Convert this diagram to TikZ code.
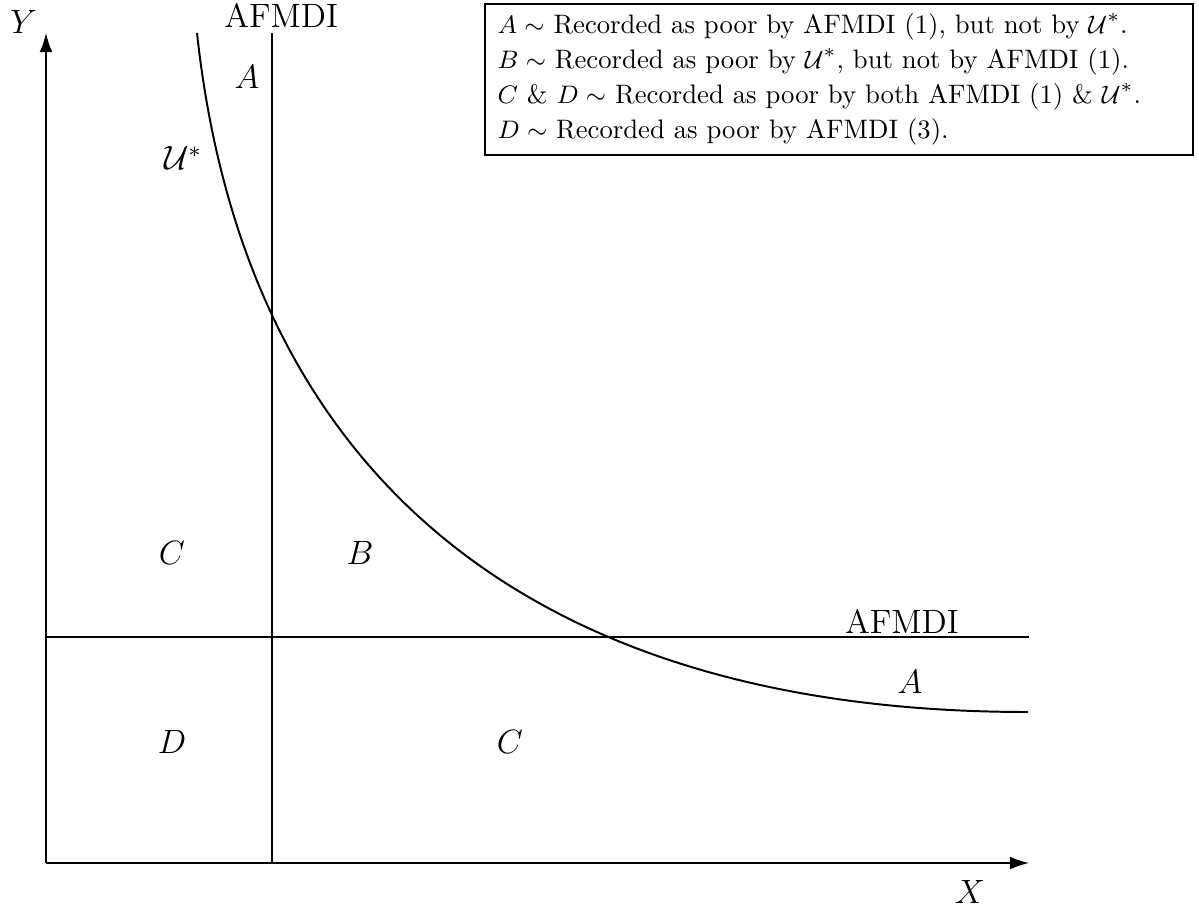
\documentclass[tikz,border=0pt]{standalone}
\usepackage{amsmath, amssymb}
\usepackage{tikz}
\usetikzlibrary{arrows.meta, positioning, calc}

\begin{document}
\begin{tikzpicture}[
  axis/.style={-{Latex[length=2.4mm, width=1.6mm]}, line width=0.5pt},
  cutoff/.style={line width=0.5pt},
  region/.style={font=\large, inner sep=0pt},
  legendbox/.style={draw, line width=0.6pt, align=left, anchor=north west,
    text width=8.53cm, inner xsep=0.16cm, minimum height=1.8875cm,
    font=\fontsize{9.5}{12.5}\selectfont},
  >=Stealth
]
  \useasboundingbox (-0.575,-0.575) rectangle (14.4125,10.7875);
  % Axes
  \coordinate (O) at (0,0);
  \coordinate (ytip) at (0,10.375);
  \coordinate (xtip) at (12.2875,0);
  \draw[axis] (O) -- (ytip);
  \draw[axis] (O) -- (xtip);
  \node[font=\large] (ylab) at (-0.28,10.5125) {$Y$};
  \node[font=\large] (xlab) at (11.55,-0.3625) {$X$};
  % AFMDI cut-offs
  \coordinate (vbot) at (2.825,0);
  \coordinate (vtop) at (2.825,10.375);
  \coordinate (hleft) at (0,2.825);
  \coordinate (hright) at (12.2875,2.825);
  \draw[cutoff] (vbot) -- (vtop);
  \draw[cutoff] (hleft) -- (hright);
  \node[font=\large] (afmdiv) at (2.94,10.6) {AFMDI};
  \node[font=\large] (afmdih) at (10.7,3.025) {AFMDI};
  % Poverty curve
  \coordinate (ustart) at (1.8875,10.375);
  \coordinate (uend) at (12.275,1.8875);
  \draw[line width=0.7pt] (ustart) .. controls (2.494,4.7875) and (6.119,1.8875) .. (uend);
  \node[font=\large] (ustar) at (1.7125,8.8125) {$\mathcal{U}^{*}$};
  % Regions
  \foreach \lab/\x/\y [count=\i] in {A/2.5125/9.825, C/1.575/3.875,
      B/3.925/3.875, D/1.575/1.5125, C/5.8/1.5125, A/10.8/2.2625} {
    \node[region] (reg\i) at (\x,\y) {$\lab$};
  }
  % Legend
  \node[legendbox] (legend) at (5.475,10.75) {%
    $A\sim$ Recorded as poor by AFMDI (1), but not by $\mathcal{U}^{*}$.\\
    $B\sim$ Recorded as poor by $\mathcal{U}^{*}$, but not by AFMDI (1).\\
    $C$ \& $D\sim$ Recorded as poor by both AFMDI (1) \& $\mathcal{U}^{*}$.\\
    $D\sim$ Recorded as poor by AFMDI (3).};
\end{tikzpicture}
\end{document}
